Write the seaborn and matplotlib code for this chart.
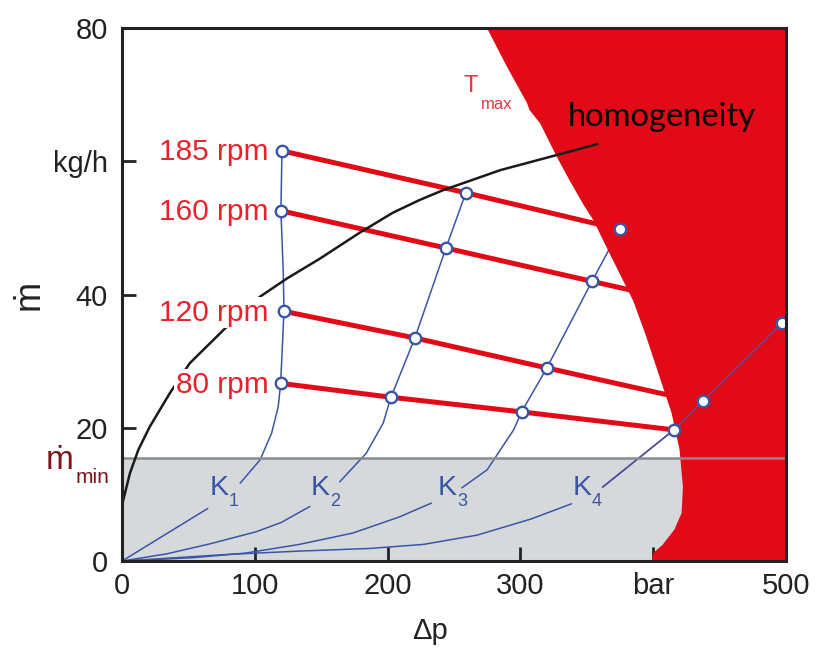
import matplotlib
matplotlib.use("Agg")
import matplotlib.pyplot as plt
import numpy as np
import pandas as pd
import seaborn as sns

sns.set_theme(style="white")
plt.rcParams["font.family"] = ["Liberation Sans", "DejaVu Sans"]

# ---------------- data ----------------
x_ticks = [0, 100, 200, 300, 400, 500]
x_ticklabels = ["0", "100", "200", "300", "bar", "500"]
y_ticks = [0, 20, 40, 60, 80]
y_ticklabels = ["0", "20", "40", "kg/h", "80"]

m_min = 15.5

# T_max boundary (left edge of the red region), top to bottom
tmax_dp = [275, 290, 305, 307, 315, 327.5, 337, 347, 355, 365, 385, 394, 405, 414, 420, 422.5, 421.5, 416, 407, 400, 399]
tmax_m = [80, 74.2, 68.8, 67.7, 65.7, 60.7, 57.2, 53.7, 51.2, 47.1, 39.1, 34.2, 27.6, 22.2, 16.7, 11.1, 7.2, 4.7, 2.4, 1.2, 0]

# homogeneity limit
homog_dp = [0, 6, 12.3, 21, 36, 51, 79, 104, 124, 149, 179, 204, 224, 242, 285, 330, 358]
homog_m = [8.4, 13.2, 16.7, 20.2, 25.2, 29.7, 35.2, 39.7, 42.4, 45.4, 49.3, 52.3, 54.2, 55.7, 58.7, 61.1, 62.6]

# screw speed lines
rpm_labels = ["185 rpm", "160 rpm", "120 rpm", "80 rpm"]
rpm185_dp = [120.5, 259, 375]
rpm185_m = [61.6, 55.3, 49.8]
rpm160_dp = [119.7, 244, 354, 385]
rpm160_m = [52.6, 47, 42, 40.6]
rpm120_dp = [122, 220.6, 320, 410]
rpm120_m = [37.5, 33.5, 29, 25]
rpm80_dp = [119, 202.6, 301, 415.7]
rpm80_m = [26.7, 24.6, 22.4, 19.7]

# die characteristics K1..K4 (lower part / upper part, gap for label)
k_names = ["1", "2", "3", "4"]
k1_low_dp = [0, 64.6]
k1_low_m = [0, 7.9]
k1_up_dp = [89, 104, 112.7, 117.7, 119.5, 122, 121.5, 119.7, 120.5]
k1_up_m = [11.7, 15.2, 19.2, 23.2, 26.7, 37.5, 43.2, 52.6, 61.6]
k2_low_dp = [0, 34, 66.5, 101, 120, 141.5]
k2_low_m = [0, 1.1, 2.6, 4.4, 5.8, 8.2]
k2_up_dp = [164, 184, 196.7, 202.6, 220.6, 244, 259]
k2_up_m = [11.9, 16.2, 20.7, 24.6, 33.5, 47, 55.3]
k3_low_dp = [0, 53, 93, 133.5, 173.7, 208.6, 233]
k3_low_m = [0, 0.5, 1.2, 2.5, 4.2, 6.6, 8.7]
k3_up_dp = [256, 275, 285, 295, 301, 320, 354, 375]
k3_up_m = [11, 13.7, 16.7, 19.7, 22.4, 29, 42, 49.8]
k4_low_dp = [0, 40, 80, 133.5, 187, 227, 267.6, 307.8, 338.6]
k4_low_m = [0, 0.5, 1.0, 1.5, 1.9, 2.5, 3.9, 6.3, 8.6]
k4_up_dp = [362, 415.7, 437.5, 497]
k4_up_m = [11.1, 19.7, 24, 35.7]

# operating points
pt_dp = [120.5, 119.7, 122, 119.5, 259, 244, 220.6, 202.6, 375, 354, 320, 301, 415.7, 437.5, 497]
pt_m = [61.6, 52.6, 37.5, 26.7, 55.3, 47, 33.5, 24.6, 49.8, 42, 29, 22.4, 19.7, 24, 35.7]

# ---------------- colours ----------------
RED = "#e20a17"
RED_TXT = "#e8212b"
BLUE = "#3b55a6"
GRAY_FILL = "#d6d9db"
GRAY_LINE = "#8a8a8a"
DARK = "#222222"

fig = plt.figure(figsize=(8.16, 6.57), dpi=100)
ax = fig.add_axes([0.1495, 0.146, 0.8135, 0.811])

ax.set_xlim(0, 500)
ax.set_ylim(0, 80)

# grey region below m_min
ax.axhspan(0, m_min, color=GRAY_FILL, lw=0, zorder=0.5)

# K curves
k_rows = []
for name, segs in zip(k_names, [
    [(k1_low_dp, k1_low_m), (k1_up_dp, k1_up_m)],
    [(k2_low_dp, k2_low_m), (k2_up_dp, k2_up_m)],
    [(k3_low_dp, k3_low_m), (k3_up_dp, k3_up_m)],
    [(k4_low_dp, k4_low_m), (k4_up_dp, k4_up_m)],
]):
    for si, (xs, ys) in enumerate(segs):
        for xv, yv in zip(xs, ys):
            k_rows.append({"dp": xv, "m": yv, "seg": f"K{name}_{si}"})
k_df = pd.DataFrame(k_rows)
sns.lineplot(data=k_df, x="dp", y="m", units="seg", estimator=None, sort=False,
             color=BLUE, lw=1.1, ax=ax, zorder=2)

# rpm lines
rpm_rows = []
for lab, xs, ys in zip(rpm_labels, [rpm185_dp, rpm160_dp, rpm120_dp, rpm80_dp],
                       [rpm185_m, rpm160_m, rpm120_m, rpm80_m]):
    for xv, yv in zip(xs, ys):
        rpm_rows.append({"dp": xv, "m": yv, "rpm": lab})
rpm_df = pd.DataFrame(rpm_rows)
sns.lineplot(data=rpm_df, x="dp", y="m", units="rpm", estimator=None, sort=False,
             color=RED, lw=3.6, ax=ax, zorder=3)

# T_max region
poly_x = tmax_dp + [500, 500]
poly_y = tmax_m + [0, 80]
ax.fill(poly_x, poly_y, color=RED, lw=0, zorder=4)

# K4 upper part visible on red
k4_df = pd.DataFrame({"dp": k4_up_dp, "m": k4_up_m})
sns.lineplot(data=k4_df, x="dp", y="m", estimator=None, sort=False,
             color="#5a4e9a", lw=1.1, ax=ax, zorder=4.5)

# m_min line
ax.axhline(m_min, color=GRAY_LINE, lw=1.8, zorder=4.6)

# homogeneity line
h_df = pd.DataFrame({"dp": homog_dp, "m": homog_m})
sns.lineplot(data=h_df, x="dp", y="m", estimator=None, sort=False,
             color="#1a1a1a", lw=1.8, ax=ax, zorder=5)

# operating points
p_df = pd.DataFrame({"dp": pt_dp, "m": pt_m})
sns.scatterplot(data=p_df, x="dp", y="m", s=68, color="white",
                edgecolor=BLUE, linewidth=1.7, ax=ax, zorder=7)

# rpm labels (white boxes cut the homogeneity line)
for lab, ys in zip(rpm_labels, [rpm185_m, rpm160_m, rpm120_m, rpm80_m]):
    ax.text(110.5, ys[0] - 0.2, lab, ha="right", va="center", fontsize=21.5, color=RED_TXT,
            zorder=6, bbox=dict(boxstyle="square,pad=0.05", fc="white", ec="none"))

# K labels
k_lab_pos = [(73, 11.0), (149.5, 11.0), (245, 11.0), (346.5, 11.0)]
for name, (xv, yv) in zip(k_names, k_lab_pos):
    ax.text(xv, yv, "K", ha="center", va="center", fontsize=20.5, color=BLUE, zorder=6)
    ax.annotate(name, (xv, yv), xytext=(10.5, -9.5), textcoords="offset points",
                ha="center", va="center", fontsize=13, color=BLUE, zorder=6)

# T_max label
ax.text(263, 71.3, "T", ha="center", va="center", fontsize=17, color="#e8343d", zorder=6)
ax.annotate("max", (263, 71.3), xytext=(18.5, -13), textcoords="offset points",
            ha="center", va="center", fontsize=12, color="#e8343d", zorder=6)

# homogeneity label
ax.text(336, 66.6, "homogeneity", ha="left", va="center", fontsize=23.5,
        color="black", family=["Lato", "DejaVu Sans"], zorder=6)

# m_min label left of axis
ax.annotate("ṁ", (0, m_min), xycoords="data", xytext=(-45, -2), textcoords="offset points",
            ha="center", va="center", fontsize=24, color="#7d1518", annotation_clip=False)
ax.annotate("min", (0, m_min), xycoords="data", xytext=(-21, -14.5), textcoords="offset points",
            ha="center", va="center", fontsize=15, color="#7d1518", annotation_clip=False)

# axes styling
ax.set_xticks(x_ticks)
ax.set_xticklabels(x_ticklabels)
ax.set_yticks(y_ticks)
ax.set_yticklabels(y_ticklabels)
ax.tick_params(axis="both", which="both", direction="in", length=10, width=2,
               color=DARK, labelcolor=DARK, labelsize=21,
               left=True, bottom=True, top=False, right=False)
ax.tick_params(axis="y", pad=10)
ax.tick_params(axis="x", pad=8)
for sp in ax.spines.values():
    sp.set_color(DARK)
    sp.set_linewidth(2.2)
    sp.set_zorder(8)

ax.set_xlabel("Δp", fontsize=21, color=DARK)
ax.xaxis.set_label_coords(0.464, -0.105)
ax.set_ylabel("ṁ", fontsize=26, color=DARK, rotation=90)
ax.yaxis.set_label_coords(-0.113, 0.5)
ax.grid(False)

fig.savefig("out.png", dpi=100)
